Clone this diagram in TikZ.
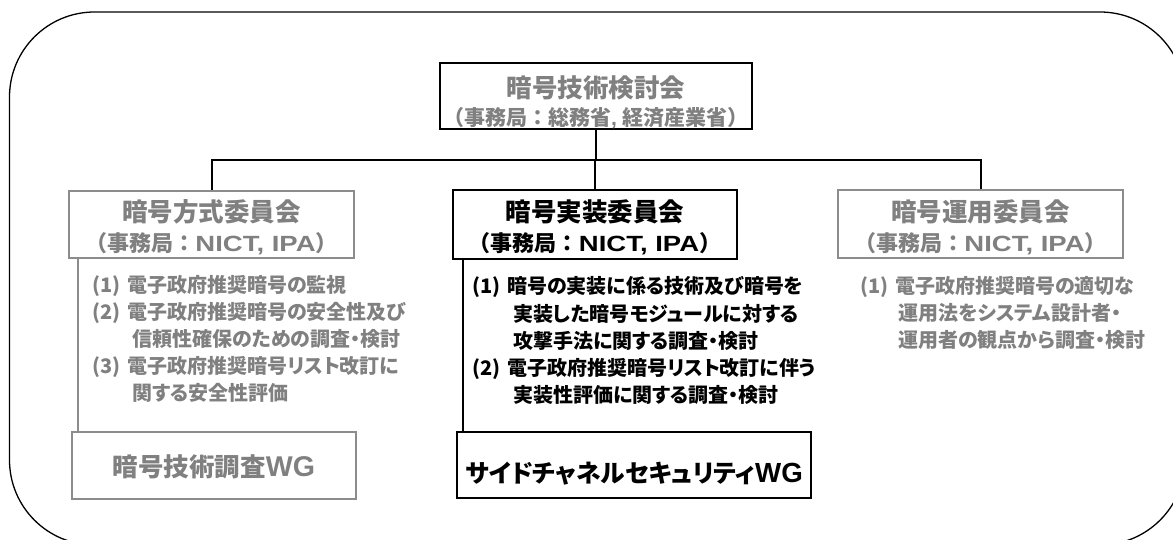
\documentclass[tikz,border=0pt]{standalone}
\usepackage{fontspec}
\usepackage{graphicx}
\setmainfont{Noto Sans CJK JP}[RawFeature=+palt]
\newfontfamily\jpf{Noto Sans CJK JP}
\newfontfamily\lat{Liberation Sans}
\usetikzlibrary{calc}
\definecolor{txtgray}{RGB}{128,128,128}
\definecolor{boxgray}{RGB}{140,140,140}
\newcommand{\wlat}[1]{\scalebox{1.25}[1]{\lat #1}}
\newcommand{\wgl}{\scalebox{1.12}{\lat WG}}
\newcommand{\lbl}[1]{\makebox[35pt][l]{(#1)}}
\begin{document}
\begin{tikzpicture}[x=1pt,y=-1pt,
  conn/.style={line width=2pt, draw=black},
  gconn/.style={line width=2pt, draw=boxgray},
  bbox/.style={draw=black, line width=2pt, inner sep=0pt},
  gbox/.style={draw=boxgray, line width=2pt, inner sep=0pt},
  gtxt/.style={text=txtgray},
  ttl/.style={anchor=base, inner sep=0pt, font=\bfseries\fontsize{25.5}{30}\selectfont},
  sub/.style={anchor=base, inner sep=0pt, font=\jpf\bfseries\fontsize{22}{26}\selectfont},
  subtop/.style={anchor=base, inner sep=0pt, font=\jpf\bfseries\fontsize{21}{25}\selectfont},
  wgtxt/.style={anchor=base, inner sep=0pt, font=\bfseries\fontsize{25.5}{30}\selectfont},
  wgtxtsm/.style={anchor=base, inner sep=0pt, font=\bfseries\fontsize{24.7}{30}\selectfont},
  item/.style={anchor=base west, inner sep=0pt, font=\bfseries\fontsize{20}{27}\selectfont}
]
\useasboundingbox (0,0) rectangle (1173,540);
\begin{scope}
  \clip (0,0) rectangle (1173,540);
  \draw[line width=1.3pt, rounded corners=85pt] (9.5,12) rectangle (1185,545);
\end{scope}

% boxes
\node[bbox, minimum width=312pt, minimum height=66pt] (top) at (596,96) {};
\node[gbox, minimum width=285pt, minimum height=67pt] (hoshiki) at (211.5,224.5) {};
\node[bbox, minimum width=284pt, minimum height=69pt] (jisso) at (595,224.5) {};
\node[gbox, minimum width=285pt, minimum height=68pt] (unyo) at (980.5,224) {};
\node[gbox, minimum width=284pt, minimum height=67pt] (wgA) at (214,465.5) {};
\node[bbox, minimum width=354pt, minimum height=66pt] (wgB) at (634,465) {};

% box texts
\node[ttl, gtxt] (topT1) at (596,97.5) {暗号技術検討会};
\node[subtop, gtxt] (topT2) at (596,126) {（事務局：総務省{\lat, }経済産業省）};
\node[ttl, gtxt] (hoshikiT1) at (211.5,222) {暗号方式委員会};
\node[sub, gtxt] (hoshikiT2) at (211.5,252) {（事務局：\wlat{NICT, IPA}）};
\node[ttl] (jissoT1) at (595,222) {暗号実装委員会};
\node[sub] (jissoT2) at (595,252) {（事務局：\wlat{NICT, IPA}）};
\node[ttl, gtxt] (unyoT1) at (980.5,222) {暗号運用委員会};
\node[sub, gtxt] (unyoT2) at (980.5,252) {（事務局：\wlat{NICT, IPA}）};
\node[wgtxt, gtxt] (wgAT) at (214,476) {暗号技術調査\wgl};
\node[wgtxtsm] (wgBT) at (634,482) {サイドチャネルセキュリティ\wgl};

% connectors
\coordinate (bus) at (596,160);
\draw[conn] (top.south) -- (bus);
\draw[conn] (hoshiki.north) |- (bus) -| (unyo.north);
\draw[conn] (jisso.north) -- (jisso.north |- bus);
\draw[gconn] ($(hoshiki.south west)+(10,0)$) -- ($(wgA.north west)+(7,0)$);
\draw[conn] ($(jisso.south west)+(11,0)$) -- ($(wgB.north west)+(7,0)$);

% left list
\node[item, gtxt] (L1) at (92,292) {\lbl{1}電子政府推奨暗号の監視};
\node[item, gtxt] (L2) at (92,319) {\lbl{2}電子政府推奨暗号の安全性及び};
\node[item, gtxt] (L3) at (132,346) {信頼性確保のための調査・検討};
\node[item, gtxt] (L4) at (92,373) {\lbl{3}電子政府推奨暗号リスト改訂に};
\node[item, gtxt] (L5) at (132,400) {関する安全性評価};

% middle list
\node[item] (M1) at (472,294) {\lbl{1}暗号の実装に係る技術及び暗号を};
\node[item] (M2) at (513,321) {実装した暗号モジュールに対する};
\node[item] (M3) at (513,348) {攻撃手法に関する調査・検討};
\node[item] (M4) at (472,375) {\lbl{2}電子政府推奨暗号リスト改訂に伴う};
\node[item] (M5) at (513,402) {実装性評価に関する調査・検討};

% right list
\node[item, gtxt] (R1) at (860,293) {\lbl{1}電子政府推奨暗号の適切な};
\node[item, gtxt] (R2) at (898,320) {運用法をシステム設計者・};
\node[item, gtxt] (R3) at (898,347) {運用者の観点から調査・検討};
\end{tikzpicture}
\end{document}
